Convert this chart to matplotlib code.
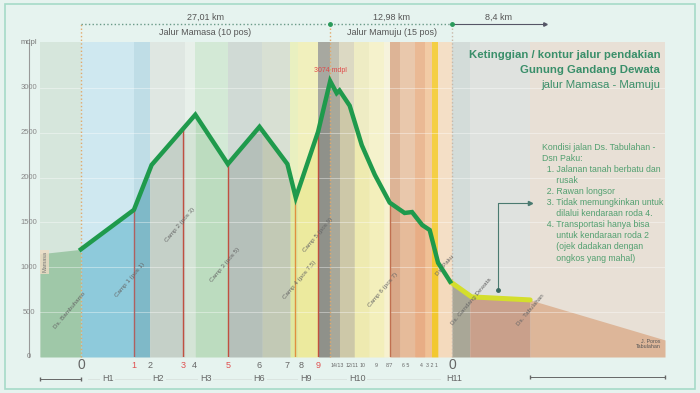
#!/usr/bin/env python3
"""Elevation profile of the Gandang Dewata hiking trail (Mamasa - Mamuju)."""

import matplotlib

matplotlib.use("Agg")
import matplotlib.pyplot as plt
import numpy as np
from matplotlib.patches import Rectangle

plt.rcParams["font.family"] = ["Liberation Sans", "DejaVu Sans"]

# trail profile (distance km from Ds. start, elevation mdpl)
TRAIL_KM = [0, 5.7, 7.6, 12.3, 15.8, 19.2, 22.2, 23.1, 25.5, 26.8, 27.5, 27.8,
            28.9, 30.2, 31.6, 33.2, 34.8, 35.6, 36.7, 37.5, 38.4, 39.7]
TRAIL_M = [1200, 1640, 2140, 2700, 2150, 2565, 2150, 1775, 2510, 3074, 2940, 2970,
           2800, 2360, 2030, 1720, 1605, 1615, 1470, 1415, 1050, 840]
ROAD_KM = [39.7, 42.0, 48.3]
ROAD_M = [840, 670, 636]
LEFT_KM = [-4.4, 0]
LEFT_M = [1150, 1200]
RIGHT_KM = [48.3, 62.8]
RIGHT_M = [636, 190]

# vegetation / zone strips
BAND_EDGES = [-4.4, 0, 5.7, 7.4, 11.2, 12.3, 15.8, 19.5, 22.5, 23.3, 25.5, 26.8, 27.8,
              29.4, 31.0, 32.6, 33.2, 34.3, 35.9, 37.0, 37.7, 38.4, 39.9, 41.8, 48.3, 62.8]
BAND_TOP = ["#d6e6dc", "#cfe8f0", "#bfdde6", "#dfe7e2", "#e8f0ea", "#d3e9d6", "#d0dad5",
            "#d8e0d3", "#e9f0c0", "#f1f0bd", "#a7a8a0", "#c0c0b2", "#dcd9c3", "#eeecc4",
            "#f5f2cc", "#f6f3dc", "#ddb496", "#e9c8ac", "#eab994", "#f2cba5", "#f4cf45",
            "#f4dfc6", "#d3dcd9", "#dfe2df", "#e8e0d6"]
BAND_LOW = ["#9fc8a8", "#8ecadb", "#7fb9c8", "#c5d0c8", "#d4e4d6", "#bcdcbf", "#b5c0ba",
            "#c2c9b5", "#dfe8a0", "#ecea9e", "#8f918a", "#a8a89a", "#cdc8a8", "#eeeab0",
            "#f3efbb", "#f7f1cf", "#d9a888", "#e6bb9a", "#e8ad85", "#f0c095", "#f2c830",
            "#f4dabd", "#a9a797", "#c9a08b", "#ddb699"]

# camp markers (red lines)
CAMP_KM = [5.7, 11.0, 15.8, 23.0, 25.5, 33.2]
CAMP_COLORS = ["#b06060", "#c05040", "#c05040", "#e09040", "#c05040", "#c07050"]

# pos numbers under the axis
POS_KM = [5.7, 7.4, 11.0, 12.2, 15.8, 19.1, 22.2, 23.7, 25.5]
POS_LABELS = ["1", "2", "3", "4", "5", "6", "7", "8", "9"]
POS_RED = [True, False, True, False, True, False, False, False, True]
MAMUJU_POS_KM = [27.6, 29.2, 30.3, 31.8, 33.2, 34.9, 36.6, 37.7]
MAMUJU_POS = ["14/13", "12/11", "10", "9", "8/7", "6 5", "4", "3 2 1"]

DAY_KM = [2.9, 8.3, 13.4, 19.2, 24.2, 29.7, 40.1]
DAY_LABELS = ["H1", "H2", "H3", "H6", "H9", "H10", "H11"]

SITE_LABELS = ["Ds. Bambuhamo", "Camp 1 (pos 1)", "Camp 2 (pos 3)", "Camp 3 (pos 5)",
               "Camp 4 (pos 7,5)", "Camp 5 (pos 9)", "Camp 6 (pos 7)", "Ds. Paku",
               "Ds. Gandang Dewata", "Ds. Tabulahan"]
SITE_KM = [-1.2, 5.3, 10.6, 15.5, 23.5, 25.5, 32.5, 39.1, 42.0, 48.3]
SITE_M = [520, 860, 1470, 1025, 860, 1360, 750, 1025, 613, 524]

Y_TICKS = [0, 500, 1000, 1500, 2000, 2500, 3000]

KONDISI = ("Kondisi jalan Ds. Tabulahan -\nDsn Paku:\n"
           "  1. Jalanan tanah berbatu dan\n      rusak\n"
           "  2. Rawan longsor\n"
           "  3. Tidak memungkinkan untuk\n      dilalui kendaraan roda 4.\n"
           "  4. Transportasi hanya bisa\n      untuk kendaraan roda 2\n"
           "      (ojek dadakan dengan\n      ongkos yang mahal)")


def main() -> None:
    fig = plt.figure(figsize=(7.0, 3.93), dpi=100)
    fig.patch.set_facecolor("#e6f3ef")
    fig.add_artist(Rectangle((5 / 700, 4 / 393), 690 / 700, 385 / 393, transform=fig.transFigure,
                             fill=False, edgecolor="#a6dac8", lw=1.2))
    ax = fig.add_axes([40 / 700, 36 / 393, 625 / 700, 315 / 393])
    ax.set_xlim(BAND_EDGES[0], BAND_EDGES[-1])
    ax.set_ylim(0, 3510)

    all_km = np.array(LEFT_KM + TRAIL_KM + ROAD_KM[1:] + RIGHT_KM[1:])
    all_m = np.array(LEFT_M + TRAIL_M + ROAD_M[1:] + RIGHT_M[1:])

    for i in range(len(BAND_TOP)):
        x0, x1 = BAND_EDGES[i], BAND_EDGES[i + 1]
        ax.axvspan(x0, x1, color=BAND_TOP[i], lw=0, zorder=0)
        xs = np.linspace(x0, x1, 60)
        ax.fill_between(xs, 0, np.interp(xs, all_km, all_m), color=BAND_LOW[i], lw=0, zorder=1)

    for y in Y_TICKS[1:]:
        ax.axhline(y, color="white", lw=0.6, alpha=0.45, zorder=1.5)

    for km, c in zip(CAMP_KM, CAMP_COLORS):
        ax.plot([km, km], [0, np.interp(km, all_km, all_m)], color=c, lw=1.0, zorder=2)

    # dotted route markers
    top = 3713
    for km, c in [(0, "#e2a86a"), (26.8, "#e2a86a"), (39.9, "#c8b8a8")]:
        ax.plot([km, km], [0, top], color=c, lw=1.0, ls=":", zorder=2, clip_on=False)
    ax.plot([0, 26.8], [top, top], color="#6a9a88", lw=1.0, ls=":", clip_on=False)
    ax.plot([26.8, 39.9], [top, top], color="#6a9a88", lw=1.0, ls=":", clip_on=False)
    ax.plot([39.9, 49.9], [top, top], color="#556", lw=0.8, clip_on=False)
    ax.plot([26.8, 39.9], [top, top], "o", color="#2a9a5a", ms=2.5, clip_on=False)
    ax.plot([49.9], [top], ">", color="#556", ms=2.5, clip_on=False)
    ax.text(13.4, 3785, "27,01 km", ha="center", va="center", fontsize=6.5, color="#555", clip_on=False)
    ax.text(13.4, 3615, "Jalur Mamasa (10 pos)", ha="center", va="center", fontsize=6.5, color="#555", clip_on=False)
    ax.text(33.4, 3785, "12,98 km", ha="center", va="center", fontsize=6.5, color="#555", clip_on=False)
    ax.text(33.4, 3615, "Jalur Mamuju (15 pos)", ha="center", va="center", fontsize=6.5, color="#555", clip_on=False)
    ax.text(44.9, 3785, "8,4 km", ha="center", va="center", fontsize=6.5, color="#555", clip_on=False)

    # profile lines
    ax.plot(ROAD_KM, ROAD_M, color="#d4de2c", lw=3.6, solid_capstyle="round", zorder=4)
    ax.plot(TRAIL_KM, TRAIL_M, color="#1f9a4c", lw=3.2, solid_joinstyle="miter", zorder=5)
    ax.text(26.8, 3150, "3074 mdpl", ha="center", va="bottom", fontsize=5, color="#e04848", zorder=6)

    for lab, x, y in zip(SITE_LABELS, SITE_KM, SITE_M):
        ax.text(x, y, lab, rotation=50, ha="center", va="center", fontsize=4.5, color="#666", zorder=6)
    ax.text(-3.9, 1060, "Mamasa", rotation=90, ha="center", va="center", fontsize=4, color="#777",
            bbox=dict(boxstyle="square,pad=0.3", fc="#f0dcc4", ec="none", alpha=0.8), zorder=6)
    ax.text(62.3, 140, "J. Poros\nTabulahan", ha="right", va="center", fontsize=3.8, color="#555",
            linespacing=1.0, zorder=6)

    # titles and notes
    ax.text(62.3, 3370, "Ketinggian / kontur jalur pendakian", ha="right", va="center",
            fontsize=8.2, fontweight="bold", color="#3a8f6a", zorder=6)
    ax.text(62.3, 3200, "Gunung Gandang Dewata", ha="right", va="center",
            fontsize=8.2, fontweight="bold", color="#3a8f6a", zorder=6)
    ax.text(62.3, 3030, "jalur Mamasa - Mamuju", ha="right", va="center",
            fontsize=8.2, color="#3a8f6a", zorder=6)
    ax.text(49.6, 2390, KONDISI, ha="left", va="top", fontsize=6.3, color="#52a070",
            linespacing=1.3, zorder=6)
    ax.plot([44.8, 44.8, 48.0], [747, 1717, 1717], color="#4a7a70", lw=0.8, zorder=6)
    ax.plot([44.8], [747], "o", color="#3a6a60", ms=2.5, zorder=6)
    ax.plot([48.3], [1717], ">", color="#4a7a70", ms=3, zorder=6)

    # axes styling
    for s in ["top", "right", "bottom"]:
        ax.spines[s].set_visible(False)
    ax.spines["left"].set_position(("outward", 8))
    ax.spines["left"].set_color("#999")
    ax.spines["left"].set_bounds(0, 3500)
    ax.set_xticks([])
    ax.set_yticks([])
    for y in Y_TICKS:
        ax.text(-0.0176, y, str(y), transform=ax.get_yaxis_transform(), ha="center", va="center",
                fontsize=5.5, color="#888", clip_on=False)
    ax.text(-0.0176, 3500, "mdpl", transform=ax.get_yaxis_transform(), ha="center", va="center",
            fontsize=5.5, color="#777", clip_on=False)

    # numbers below the axis
    yb = -90
    ax.text(0, yb, "0", ha="center", va="center", fontsize=10, color="#666", clip_on=False)
    ax.text(39.9, yb, "0", ha="center", va="center", fontsize=10, color="#666", clip_on=False)
    for km, lab, red in zip(POS_KM, POS_LABELS, POS_RED):
        ax.text(km, yb, lab, ha="center", va="center", fontsize=6.5,
                color="#e05050" if red else "#666", clip_on=False)
    for km, lab in zip(MAMUJU_POS_KM, MAMUJU_POS):
        ax.text(km, yb, lab, ha="center", va="center", fontsize=3.8, color="#666", clip_on=False)

    yh = -240
    ax.plot([0.8, 38.6], [yh, yh], color="#d8e2de", lw=0.6, clip_on=False)
    for km, lab in zip(DAY_KM, DAY_LABELS):
        ax.text(km, yh, lab, ha="center", va="center", fontsize=6.5, color="#666",
                bbox=dict(boxstyle="square,pad=0.2", fc="#e6f3ef", ec="none"), clip_on=False)
    ax.plot([-4.4, 0], [yh, yh], color="#666", lw=0.7, marker="|", ms=3, clip_on=False)
    ax.plot([48.3, 62.8], [yh + 20, yh + 20], color="#666", lw=0.7, marker="|", ms=3, clip_on=False)

    fig.savefig("out.png", dpi=100, facecolor=fig.get_facecolor())
    plt.close(fig)


if __name__ == "__main__":
    main()
